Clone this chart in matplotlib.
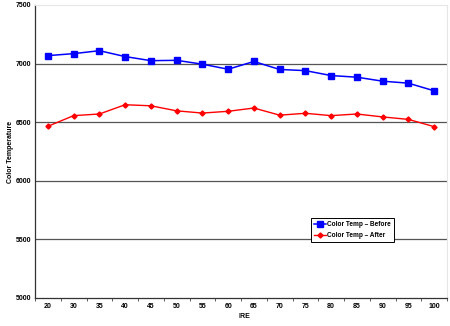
import matplotlib
matplotlib.use("Agg")
import matplotlib.pyplot as plt
import numpy as np

ire = ["20", "30", "35", "40", "45", "50", "55", "60", "65", "70", "75", "80", "85", "90", "95", "100"]
before = [7068, 7085, 7110, 7060, 7025, 7028, 6995, 6952, 7018, 6950, 6940, 6898, 6884, 6850, 6833, 6768]
after = [6465, 6556, 6570, 6649, 6640, 6597, 6578, 6593, 6621, 6560, 6576, 6556, 6570, 6545, 6524, 6462]
yticks = [5000, 5500, 6000, 6500, 7000, 7500]

plt.rcParams['font.family'] = ['Liberation Sans', 'DejaVu Sans']
plt.rcParams['font.weight'] = 'bold'

fig = plt.figure(figsize=(4.5, 3.26), dpi=100)
ax = fig.add_axes([35/450, 1-298/326, 412/450, 293/326])

x = np.arange(len(ire))
ax.plot(x, before, color='#0000FF', lw=1.1, marker='s', ms=4, label='Color Temp \u2013 Before', zorder=3)
ax.plot(x, after, color='#FF0000', lw=1.0, marker='D', ms=2.6, label='Color Temp \u2013 After', zorder=3)

ax.set_xlim(-0.5, len(ire)-0.5)
ax.set_ylim(5000, 7500)
ax.set_yticks(yticks)
ax.set_yticklabels([str(v) for v in yticks], fontsize=5, fontweight='bold')
ax.set_xticks(x)
ax.set_xticklabels(ire, fontsize=5, fontweight='bold')
ax.set_xticks(np.arange(len(ire)+1)-0.5, minor=True)
ax.tick_params(axis='x', which='major', length=0, pad=3.5)
ax.tick_params(axis='x', which='minor', length=2.5, direction='out', color='#444444')
ax.tick_params(axis='y', length=0, pad=2.5)

for v in yticks[1:-1]:
    ax.axhline(v, color='#555555', lw=0.9, zorder=1)

ax.spines['left'].set_color('#333333')
ax.spines['bottom'].set_color('#333333')
ax.spines['left'].set_linewidth(0.9)
ax.spines['bottom'].set_linewidth(0.9)
ax.spines['top'].set_color('#e6e6e6')
ax.spines['right'].set_color('#e6e6e6')

ax.set_xlabel('IRE', fontsize=5, fontweight='bold', loc='left')
ax.xaxis.set_label_coords((238-35)/412, -0.05)
ax.set_ylabel('Color Temperature', fontsize=5, fontweight='bold')
ax.yaxis.set_label_coords(-0.052, 0.5)

leg = ax.legend(loc='upper left', bbox_to_anchor=((311-35)/412, 1-(218-5)/293), fontsize=4.7,
                frameon=True, fancybox=False, edgecolor='black', framealpha=1,
                handlelength=1.9, borderpad=0.45, labelspacing=0.65, handletextpad=0.1, borderaxespad=0)
leg.get_frame().set_linewidth(0.7)

fig.savefig('out.png', dpi=100)
